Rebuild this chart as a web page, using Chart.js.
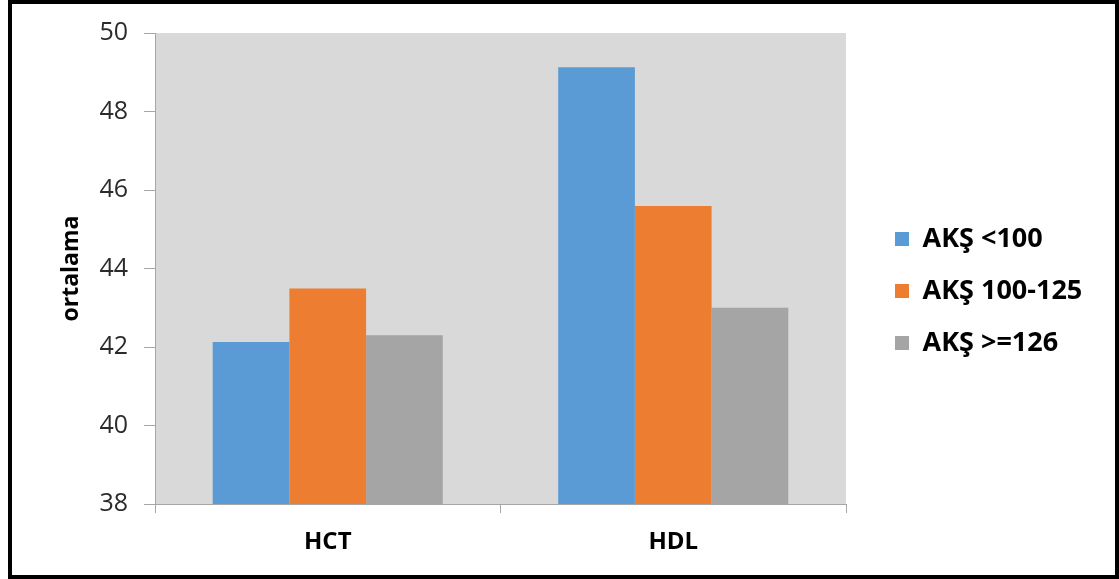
<!DOCTYPE html>
<html>
<head>
<meta charset="utf-8">
<script src="https://cdn.jsdelivr.net/npm/chart.js@4.4.1/dist/chart.umd.min.js"></script>
<style>
  html, body { margin: 0; padding: 0; background: #fff; }
  #wrap { position: relative; width: 1119px; height: 579px; }
  #frame { position: absolute; left: 8px; top: 0; width: 1111px; height: 579px; box-sizing: border-box; border: 4px solid #000; pointer-events: none; }
</style>
</head>
<body>
<div id="wrap">
  <canvas id="myChart" width="1119" height="579"></canvas>
  <div id="frame"></div>
</div>
<script>
const categories = ['HCT', 'HDL'];
const seriesLabels = ['AKŞ <100', 'AKŞ 100-125', 'AKŞ >=126'];
const aksUnder100 = [42.13, 49.13];
const aks100to125 = [43.49, 45.59];
const aksOver126 = [42.30, 43.00];
const yTicks = [38, 40, 42, 44, 46, 48, 50];
const colors = ['#5b9bd5', '#ed7d31', '#a5a5a5'];

const FONT = "'Open Sans', sans-serif";
const LEGEND_W = 273;
const LEGEND_DX = 24;
const LEGEND_DY = -15;

const plotBackground = {
  id: 'plotBackground',
  beforeDraw(chart) {
    const { ctx, chartArea: a } = chart;
    ctx.save();
    ctx.fillStyle = '#d9d9d9';
    ctx.fillRect(a.left, a.top, a.right - a.left, a.bottom - a.top);
    ctx.restore();
  }
};

// fixed legend width and a small offset so the chart area lines up
const legendPlacer = {
  id: 'legendPlacer',
  beforeUpdate(chart) {
    const lg = chart.legend;
    if (lg && !lg._fixedW) {
      const fit = lg.fit;
      lg.fit = function () { fit.call(this); this.width = LEGEND_W; };
      lg._fixedW = true;
    }
  },
  afterLayout(chart) {
    const lg = chart.legend;
    if (!lg) return;
    lg.left += LEGEND_DX; lg.right += LEGEND_DX;
    lg.top += LEGEND_DY; lg.bottom += LEGEND_DY;
  }
};

const ctx = document.getElementById('myChart');
new Chart(ctx, {
  type: 'bar',
  data: {
    labels: categories,
    datasets: [
      { label: seriesLabels[0], data: aksUnder100, backgroundColor: colors[0] },
      { label: seriesLabels[1], data: aks100to125, backgroundColor: colors[1] },
      { label: seriesLabels[2], data: aksOver126, backgroundColor: colors[2] }
    ]
  },
  options: {
    responsive: false,
    animation: false,
    layout: { padding: { left: 54, top: 33, right: 0, bottom: 0 } },
    datasets: { bar: { categoryPercentage: 0.666, barPercentage: 1 } },
    plugins: {
      tooltip: { enabled: false },
      legend: {
        position: 'right',
        labels: {
          boxWidth: 14,
          boxHeight: 14,
          padding: 25,
          color: '#000',
          font: { family: FONT, size: 27, weight: 'bold' }
        }
      }
    },
    scales: {
      x: {
        grid: { offset: true, drawOnChartArea: false, drawTicks: true, tickLength: 9, color: '#a6a6a6' },
        border: { color: '#a6a6a6' },
        ticks: { color: '#000', padding: 15, font: { family: FONT, size: 24, weight: 'bold' } },
        afterFit(s) { s.height = 75; }
      },
      y: {
        min: 38,
        max: 50,
        afterBuildTicks(s) { s.ticks = yTicks.map(v => ({ value: v })); },
        grid: { drawOnChartArea: false, tickLength: 11, color: '#a6a6a6' },
        border: { color: '#a6a6a6' },
        ticks: { color: '#2b2b2b', padding: 16, font: { family: FONT, size: 25 } },
        title: {
          display: true,
          text: 'ortalama',
          color: '#000',
          padding: { top: 4, bottom: 4 },
          font: { family: FONT, size: 23, weight: 'bold' }
        },
        afterFit(s) { s.width = 155 - 54; }
      }
    }
  },
  plugins: [plotBackground, legendPlacer]
});
</script>
</body>
</html>
